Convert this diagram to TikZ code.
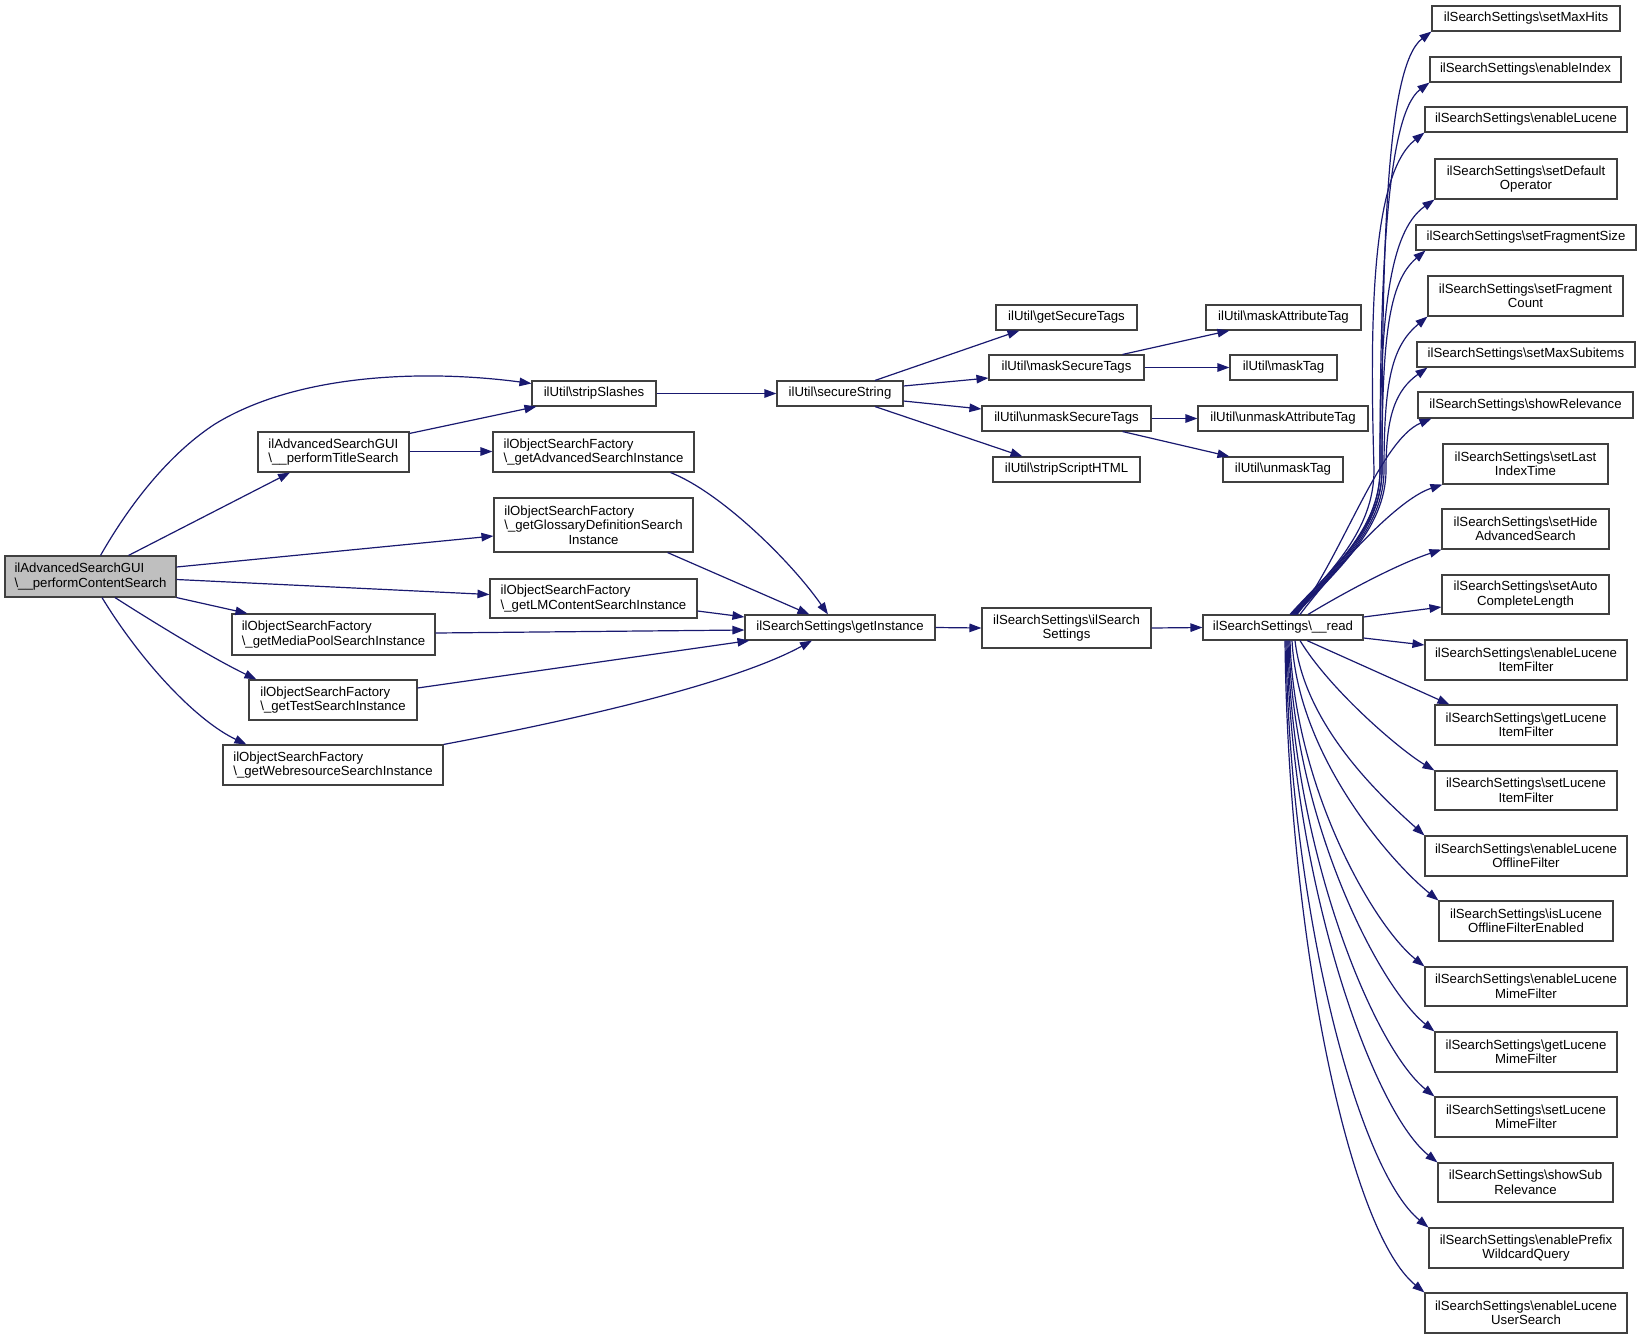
\documentclass[tikz,border=0pt]{standalone}
\usepackage{fontspec}
\setmainfont{Liberation Sans}
\usetikzlibrary{arrows.meta}
\definecolor{edgec}{HTML}{191970}
\definecolor{boxc}{HTML}{404040}
\definecolor{mainfill}{HTML}{BFBFBF}
\newcommand\bsl{\textbackslash}
\newcommand\nodefont{\fontsize{13.2}{14.5}\selectfont}
\newcommand\mybox[7][]{\node[nbox,#1,minimum width={(#5-#3)*1pt},minimum height={(#6-#4)*1pt}] (#2) at ({(#3+#5)/2},{-(#4+#6)/2}) {#7};}
\begin{document}
\begin{tikzpicture}[x=1pt,y=1pt,
  nbox/.style={draw=boxc,line width=1.1pt,inner sep=0pt,font=\nodefont,fill=white},
  conn/.style={draw=edgec,line width=1.2pt,-{Triangle[length=12pt,width=8.5pt]}}]
\fill[white] (0,0) rectangle (1641,-1339);
\useasboundingbox (0,0) rectangle (1641,-1339);
% left part
\mybox[fill=mainfill,align=left]{main}{5}{556}{176}{597}{ilAdvancedSearchGUI\\\bsl\_\_performContentSearch}
\mybox[align=left]{title}{258}{432}{409}{472}{ilAdvancedSearchGUI\\\bsl\_\_performTitleSearch}
\mybox{strip}{532}{381}{656}{406}{ilUtil\bsl stripSlashes}
\mybox[align=left]{adv}{493}{432}{694}{472}{ilObjectSearchFactory\\\bsl\_getAdvancedSearchInstance}
\mybox[align=left]{gloss}{494}{498}{693}{552}{ilObjectSearchFactory\\\bsl\_getGlossaryDefinitionSearch\\\setbox0=\hbox{\bsl\_getGlossaryDefinitionSearch}\hbox to \wd0{\hss Instance\hss}}
\mybox[align=left]{lmc}{490}{579}{697}{618}{ilObjectSearchFactory\\\bsl\_getLMContentSearchInstance}
\mybox[align=left]{media}{232}{614}{435}{655}{ilObjectSearchFactory\\\bsl\_getMediaPoolSearchInstance}
\mybox[align=left]{test}{249}{680}{417}{720}{ilObjectSearchFactory\\\bsl\_getTestSearchInstance}
\mybox[align=left]{web}{223}{745}{443}{785}{ilObjectSearchFactory\\\bsl\_getWebresourceSearchInstance}
\mybox{getinst}{745}{615}{935}{640}{ilSearchSettings\bsl getInstance}
\mybox[align=center]{ctor}{982}{608}{1151}{648}{ilSearchSettings\bsl ilSearch\\Settings}
\mybox{read}{1203}{615}{1363}{640}{ilSearchSettings\bsl\_\_read}
% util
\mybox{secure}{777}{381}{903}{406}{ilUtil\bsl secureString}
\mybox{gst}{996}{305}{1137}{330}{ilUtil\bsl getSecureTags}
\mybox{mst}{989}{355}{1144}{380}{ilUtil\bsl maskSecureTags}
\mybox{umst}{982}{406}{1151}{431}{ilUtil\bsl unmaskSecureTags}
\mybox{ssh}{993}{457}{1140}{482}{ilUtil\bsl stripScriptHTML}
\mybox{mat}{1206}{305}{1361}{330}{ilUtil\bsl maskAttributeTag}
\mybox{mt}{1230}{355}{1337}{380}{ilUtil\bsl maskTag}
\mybox{umat}{1198}{406}{1368}{431}{ilUtil\bsl unmaskAttributeTag}
\mybox{umt}{1223}{457}{1343}{482}{ilUtil\bsl unmaskTag}
% right column
\mybox{r1}{1432}{6}{1620}{31}{ilSearchSettings\bsl setMaxHits}
\mybox{r2}{1430}{57}{1621}{82}{ilSearchSettings\bsl enableIndex}
\mybox{r3}{1425}{107}{1627}{132}{ilSearchSettings\bsl enableLucene}
\mybox[align=center]{r4}{1435}{159}{1617}{199}{ilSearchSettings\bsl setDefault\\Operator}
\mybox{r5}{1416}{225}{1636}{250}{ilSearchSettings\bsl setFragmentSize}
\mybox[align=center]{r6}{1428}{276}{1623}{316}{ilSearchSettings\bsl setFragment\\Count}
\mybox{r7}{1417}{342}{1635}{367}{ilSearchSettings\bsl setMaxSubitems}
\mybox{r8}{1418}{392}{1633}{418}{ilSearchSettings\bsl showRelevance}
\mybox[align=center]{r9}{1443}{444}{1608}{484}{ilSearchSettings\bsl setLast\\IndexTime}
\mybox[align=center]{r10}{1442}{509}{1609}{549}{ilSearchSettings\bsl setHide\\AdvancedSearch}
\mybox[align=center]{r11}{1442}{575}{1609}{614}{ilSearchSettings\bsl setAuto\\CompleteLength}
\mybox[align=center]{r12}{1425}{640}{1627}{680}{ilSearchSettings\bsl enableLucene\\ItemFilter}
\mybox[align=center]{r13}{1435}{705}{1617}{745}{ilSearchSettings\bsl getLucene\\ItemFilter}
\mybox[align=center]{r14}{1435}{771}{1617}{810}{ilSearchSettings\bsl setLucene\\ItemFilter}
\mybox[align=center]{r15}{1425}{836}{1627}{876}{ilSearchSettings\bsl enableLucene\\OfflineFilter}
\mybox[align=center]{r16}{1439}{901}{1613}{941}{ilSearchSettings\bsl isLucene\\OfflineFilterEnabled}
\mybox[align=center]{r17}{1425}{967}{1627}{1006}{ilSearchSettings\bsl enableLucene\\MimeFilter}
\mybox[align=center]{r18}{1435}{1032}{1617}{1072}{ilSearchSettings\bsl getLucene\\MimeFilter}
\mybox[align=center]{r19}{1435}{1097}{1617}{1137}{ilSearchSettings\bsl setLucene\\MimeFilter}
\mybox[align=center]{r20}{1438}{1163}{1613}{1202}{ilSearchSettings\bsl showSub\\Relevance}
\mybox[align=center]{r21}{1429}{1228}{1623}{1268}{ilSearchSettings\bsl enablePrefix\\WildcardQuery}
\mybox[align=center]{r22}{1425}{1293}{1627}{1333}{ilSearchSettings\bsl enableLucene\\UserSearch}
% edges left
\draw[conn] ([xshift=10pt]main.north) .. controls (135,-495) and (175,-450) .. (215,-424) .. controls (300,-372) and (430,-370) .. ([yshift=10pt]strip.west);
\draw[conn] ([xshift=38pt]main.north) -- ([xshift=-43.5pt]title.south);
\draw[conn] ([yshift=9.5pt]main.east) -- ([yshift=-11pt]gloss.west);
\draw[conn] ([yshift=-3pt]main.east) -- ([yshift=4pt]lmc.west);
\draw[conn] (main.south east) -- ([xshift=16pt]media.north west);
\draw[conn] ([xshift=24.5pt]main.south) .. controls (150,-620) and (210,-657) .. ([xshift=8pt]test.north west);
\draw[conn] ([xshift=11.5pt]main.south) .. controls (140,-660) and (195,-720) .. ([xshift=24pt]web.north west);
\draw[conn] ([yshift=-2pt]title.north east) -- ([xshift=5pt]strip.south west);
\draw[conn] ([yshift=0.5pt]title.east) -- ([yshift=0.5pt]adv.west);
\draw[conn] ([xshift=-24pt]adv.south east) .. controls (720,-492) and (790,-560) .. ([xshift=-12pt]getinst.north);
\draw[conn] ([xshift=-26pt]gloss.south east) -- ([xshift=65pt]getinst.north west);
\draw[conn] ([yshift=-12.5pt]lmc.east) -- ([yshift=10.5pt]getinst.west);
\draw[conn] ([yshift=1.5pt]media.east) -- ([yshift=-2.5pt]getinst.west);
\draw[conn] ([yshift=12pt]test.east) -- ([xshift=5pt]getinst.south west);
\draw[conn] (web.north east) .. controls (600,-715) and (740,-680) .. ([xshift=-28pt]getinst.south);
\draw[conn] (getinst.east) -- (ctor.west);
\draw[conn] (ctor.east) -- (read.west);
\draw[conn] (strip.east) -- (secure.west);
\draw[conn] ([xshift=35pt]secure.north) -- ([xshift=24pt]gst.south west);
\draw[conn] ([yshift=7.5pt]secure.east) -- ([yshift=-10.5pt]mst.west);
\draw[conn] ([yshift=-7.5pt]secure.east) -- ([yshift=9.5pt]umst.west);
\draw[conn] ([xshift=35pt]secure.south) -- ([xshift=30pt]ssh.north west);
\draw[conn] ([xshift=-22pt]mst.north east) -- ([xshift=24pt]mat.south west);
\draw[conn] (mst.east) -- (mt.west);
\draw[conn] (umst.east) -- (umat.west);
\draw[conn] ([xshift=-29pt]umst.south east) -- ([xshift=7pt]umt.north west);
% edges from read, upward
\draw[conn] ([xshift=7pt]read.north) .. controls (1328,-572) and (1382,-530) .. (1382,-470) .. controls (1382,-250) and (1386,-66) .. (r1.south west);
\draw[conn] ([xshift=8pt]read.north) .. controls (1329,-572) and (1380,-530) .. (1380,-470) .. controls (1380,-280) and (1386,-115) .. (r2.south west);
\draw[conn] ([xshift=9pt]read.north) .. controls (1330,-572) and (1374,-530) .. (1374,-470) .. controls (1370,-330) and (1370,-175) .. (r3.south west);
\draw[conn] ([xshift=10pt]read.north) .. controls (1331,-572) and (1380,-530) .. (1380,-470) .. controls (1380,-320) and (1388,-232) .. (r4.south west);
\draw[conn] ([xshift=11pt]read.north) .. controls (1332,-572) and (1382,-530) .. (1382,-470) .. controls (1382,-340) and (1388,-282) .. ([xshift=10pt]r5.south west);
\draw[conn] ([xshift=12pt]read.north) .. controls (1333,-572) and (1384,-530) .. (1384,-470) .. controls (1384,-380) and (1392,-346) .. (r6.south west);
\draw[conn] ([xshift=13pt]read.north) .. controls (1334,-572) and (1386,-530) .. (1386,-470) .. controls (1386,-415) and (1396,-390) .. ([xshift=11pt]r7.south west);
\draw[conn] ([xshift=14pt]read.north) .. controls (1340,-560) and (1380,-440) .. ([xshift=14pt]r8.south west);
\draw[conn] ([xshift=17pt]read.north) .. controls (1330,-575) and (1395,-500) .. (r9.south west);
\draw[conn] ([xshift=25pt]read.north) .. controls (1340,-595) and (1395,-565) .. (r10.south west);
\draw[conn] ([yshift=10.5pt]read.east) -- ([yshift=-12.5pt]r11.west);
\draw[conn] ([yshift=-10.5pt]read.east) -- ([yshift=15pt]r12.west);
% edges from read, downward
\draw[conn] ([xshift=24pt]read.south) -- ([xshift=15pt]r13.north west);
\draw[conn] ([xshift=17pt]read.south) .. controls (1330,-690) and (1400,-750) .. (r14.north west);
\draw[conn] ([xshift=12pt]read.south) .. controls (1305,-728) and (1385,-800) .. (r15.north west);
\draw[conn] ([xshift=9pt]read.south) .. controls (1298,-757) and (1392,-863) .. (r16.north west);
\draw[conn] ([xshift=7pt]read.south) .. controls (1294,-787) and (1373,-925) .. (r17.north west);
\draw[conn] ([xshift=6pt]read.south) .. controls (1292,-816) and (1378,-986) .. (r18.north west);
\draw[conn] ([xshift=5pt]read.south) .. controls (1291,-846) and (1373,-1047) .. (r19.north west);
\draw[conn] ([xshift=4pt]read.south) .. controls (1290,-875) and (1371,-1109) .. (r20.north west);
\draw[conn] ([xshift=3pt]read.south) .. controls (1289,-905) and (1357,-1169) .. (r21.north west);
\draw[conn] ([xshift=2pt]read.south) .. controls (1288,-934) and (1348,-1230) .. (r22.north west);
\end{tikzpicture}
\end{document}
